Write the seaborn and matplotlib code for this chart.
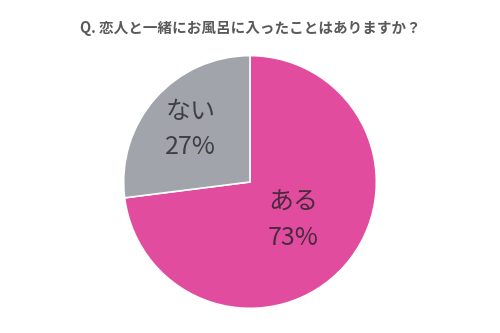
import numpy as np
import matplotlib
matplotlib.use("Agg")
import matplotlib.pyplot as plt
import seaborn as sns

title = "Q. 恋人と一緒にお風呂に入ったことはありますか？"
categories = ["ある", "ない"]
values = [73, 27]

colors = ["#E24C9F", "#A1A4AA"]
text_colors = ["#4a2a3f", "#3f4044"]
label_dist = [0.46, 0.63]

sns.set_theme(style="white")
plt.rcParams['font.family'] = ['Noto Sans CJK JP', 'DejaVu Sans']

fig = plt.figure(figsize=(5, 3.33), dpi=100)
ax = fig.add_axes([0.246, 0.072, 0.508, 0.763])
wedges, _ = ax.pie(values, colors=colors, startangle=90, counterclock=False,
                   wedgeprops=dict(edgecolor="white", linewidth=1.2))
ax.set_xlim(-1.005, 1.005)
ax.set_ylim(-1.005, 1.005)
ax.set_aspect("equal")
for w, cat, v, d, tc in zip(wedges, categories, values, label_dist, text_colors):
    ang = np.deg2rad((w.theta1 + w.theta2) / 2)
    ax.text(d * np.cos(ang), d * np.sin(ang), f"{cat}\n{v}%", ha="center", va="center",
            fontsize=18, color=tc, linespacing=1.45, fontweight="normal")

fig.text(0.5, 0.915, title, ha="center", va="center", fontsize=10.5, fontweight="bold",
         color="#595959")
fig.savefig("out.png", dpi=100)
